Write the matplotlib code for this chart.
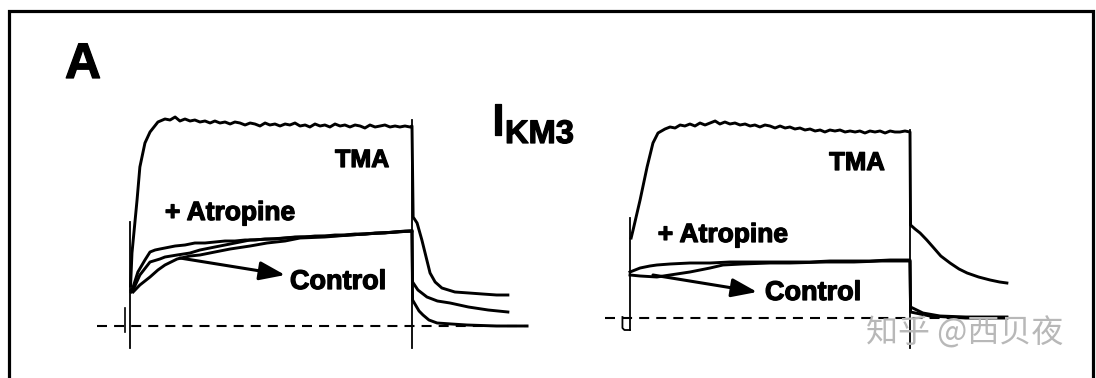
import matplotlib
matplotlib.use("Agg")
import matplotlib.pyplot as plt
import matplotlib.patheffects as pe
from matplotlib.patches import Rectangle

plt.rcParams['font.family'] = ['Liberation Sans', 'DejaVu Sans']

# ---- left panel traces (time in ms, current in arbitrary units) ----
tma_l_t = [2, 7, 25, 35, 53, 71, 99, 124, 142, 160, 177, 195, 213, 230, 248, 266, 284, 301, 319, 337,
           355, 372, 390, 408, 426, 443, 461, 479, 496, 514, 532, 550, 567, 585, 603, 621, 638, 656,
           674, 691, 709, 727, 745, 762, 780, 798, 816, 833, 851, 869, 887, 904, 922, 940, 957, 975,
           993, 1000, 1004, 1018, 1035, 1064, 1082, 1106, 1152, 1202, 1250, 1300, 1340]
tma_l_i = [0.40, 0.73, 1.26, 1.59, 1.83, 1.94, 2.04, 2.07, 2.06, 2.09, 2.05, 2.07, 2.05, 2.06, 2.04,
           2.05, 2.03, 2.05, 2.03, 2.04, 2.02, 2.04, 2.03, 2.01, 2.03, 2.02, 2.00, 2.03, 2.01, 2.02,
           2.00, 2.02, 2.01, 2.03, 2.00, 2.01, 1.99, 2.02, 2.00, 2.01, 1.99, 2.02, 2.00, 2.01, 1.99,
           2.01, 2.00, 1.98, 2.01, 1.99, 2.00, 2.01, 1.99, 2.00, 1.99, 2.00, 1.99, 2.00,
           1.09, 1.03, 0.86, 0.53, 0.44, 0.38, 0.34, 0.33, 0.32, 0.31, 0.31]

atr_l_t = [4, 11, 28, 53, 71, 89, 106, 124, 142, 160, 195, 230, 266, 301, 337, 372, 408, 443, 479,
           514, 550, 585, 621, 656, 691, 727, 762, 798, 833, 869, 904, 940, 975, 1000,
           1002, 1021, 1053, 1090, 1135, 1200, 1270, 1340]
atr_l_i = [0.36, 0.39, 0.54, 0.66, 0.74, 0.76, 0.77, 0.78, 0.79, 0.80, 0.81, 0.83, 0.83, 0.84, 0.85,
           0.85, 0.86, 0.86, 0.87, 0.87, 0.88, 0.89, 0.89, 0.90, 0.90, 0.91, 0.91, 0.92, 0.92, 0.93,
           0.93, 0.94, 0.95, 0.95,
           0.44, 0.36, 0.29, 0.25, 0.23, 0.19, 0.16, 0.14]

ctl_l_t = [4, 11, 35, 71, 106, 124, 167, 213, 248, 301, 355, 426, 496, 603, 709, 780, 887, 1000,
           1002, 1025, 1039, 1060, 1089, 1140, 1195, 1300, 1408]
ctl_l_i = [0.34, 0.36, 0.51, 0.64, 0.67, 0.69, 0.71, 0.73, 0.76, 0.79, 0.82, 0.86, 0.87, 0.89, 0.90,
           0.91, 0.93, 0.95,
           0.26, 0.15, 0.11, 0.06, 0.03, 0.02, 0.01, 0.0, 0.0]

ctl2_l_t = [11, 35, 71, 99, 124, 167, 213, 248, 301, 355, 426, 486, 550, 603, 691, 780, 887, 1000]
ctl2_l_i = [0.34, 0.41, 0.49, 0.56, 0.61, 0.67, 0.70, 0.71, 0.74, 0.77, 0.80, 0.83, 0.85, 0.88,
            0.89, 0.91, 0.93, 0.95]

# capacitive transients at pulse on/off
trans_l_on = [1.04, -0.22]
trans_l_off = [2.06, -0.22]

# ---- right panel traces ----
tma_r_t = [4, 11, 36, 61, 82, 100, 125, 143, 161, 179, 196, 214, 232, 250, 268, 286, 304, 321, 339,
           357, 375, 393, 411, 429, 446, 464, 482, 500, 518, 536, 554, 571, 589, 607, 625, 643, 661,
           679, 696, 714, 732, 750, 768, 786, 804, 821, 839, 857, 875, 893, 911, 929, 946, 964, 982,
           1000, 1002, 1018, 1036, 1060, 1082, 1110, 1143, 1175, 1204, 1245, 1286, 1320, 1346]
tma_r_i = [0.80, 0.88, 1.18, 1.51, 1.75, 1.85, 1.89, 1.91, 1.90, 1.93, 1.92, 1.94, 1.92, 1.95, 1.93,
           1.95, 1.97, 1.94, 1.96, 1.94, 1.95, 1.93, 1.94, 1.92, 1.93, 1.91, 1.93, 1.92, 1.90, 1.92,
           1.90, 1.91, 1.89, 1.90, 1.88, 1.89, 1.87, 1.88, 1.86, 1.88, 1.87, 1.88, 1.86, 1.87, 1.86,
           1.87, 1.85, 1.87, 1.86, 1.87, 1.85, 1.87, 1.86, 1.86, 1.87, 1.86,
           0.93, 0.89, 0.85, 0.78, 0.71, 0.62, 0.55, 0.49, 0.45, 0.41, 0.38, 0.36, 0.35]

atr_r_t = [0, 18, 36, 71, 96, 143, 214, 286, 357, 429, 500, 571, 643, 714, 786, 857, 929, 1000,
           1002, 1046, 1107, 1200, 1346]
atr_r_i = [0.46, 0.48, 0.50, 0.52, 0.53, 0.54, 0.55, 0.55, 0.56, 0.56, 0.56, 0.56, 0.56, 0.57, 0.57,
           0.57, 0.58, 0.58,
           0.11, 0.05, 0.02, 0.01, 0.01]

ctl_r_t = [0, 36, 96, 143, 214, 286, 332, 400, 500, 571, 700, 800, 900, 1000,
           1002, 1071, 1200, 1346]
ctl_r_i = [0.43, 0.42, 0.41, 0.43, 0.46, 0.50, 0.53, 0.54, 0.55, 0.55, 0.56, 0.56, 0.57, 0.57,
           0.06, 0.02, 0.0, 0.0]

trans_r_on = [1.00, -0.12]
trans_r_off = [1.88, -0.30]
hook_r_t = [-27, -27, -20, 0]
hook_r_i = [0.01, -0.10, -0.12, -0.12]

W, H = 1096, 378


def px_axes(fig, x0, x1, y0, y1):
    # axes rectangle given in pixel coords (y from top)
    return fig.add_axes([x0 / W, 1 - y1 / H, (x1 - x0) / W, (y1 - y0) / H])


fig = plt.figure(figsize=(W / 100, H / 100), dpi=100)

heavy = [pe.withStroke(linewidth=0.9, foreground='black')]
trace_kw = dict(color='black', lw=2.1, solid_joinstyle='round')
vert_kw = dict(color='black', lw=1.3)
dash_kw = dict(color='black', lw=1.5, linestyle=(0, (4.8, 3.4)))
label_kw = dict(fontweight='bold', ha='center', va='center', path_effects=heavy)
arrow_kw = dict(arrowstyle='-|>,head_length=0.6,head_width=0.22', lw=2.2, color='black',
                mutation_scale=26, shrinkA=0, shrinkB=0)

# left panel
axl = px_axes(fig, 90, 540, 100, 360)
axl.set_xlim((90 - 130) / 0.282, (540 - 130) / 0.282)
axl.set_ylim((326 - 360) / 100, (326 - 100) / 100)
axl.axis('off')
axl.plot([-117, 1411], [0, 0], **dash_kw)
axl.plot([0, 0], trans_l_on, **vert_kw)
axl.plot([1000, 1000], trans_l_off, **vert_kw)
axl.plot([-18, -18], [0.18, -0.06], color='black', lw=1.2)
for t, i in [(tma_l_t, tma_l_i), (atr_l_t, atr_l_i), (ctl_l_t, ctl_l_i), (ctl2_l_t, ctl2_l_i)]:
    axl.plot(t, i, **trace_kw)
axl.text(823, 1.66, 'TMA', fontsize=18, **label_kw)
axl.text(355, 1.13, '+ Atropine', fontsize=19, **label_kw)
axl.text(738, 0.44, 'Control', fontsize=19.5, **label_kw)
axl.annotate('', xy=(550, 0.51), xytext=(177, 0.68), arrowprops=arrow_kw)

# right panel
axr = px_axes(fig, 590, 1040, 100, 360)
axr.set_xlim((590 - 630) / 0.28, (1040 - 630) / 0.28)
axr.set_ylim((318 - 360) / 100, (318 - 100) / 100)
axr.axis('off')
axr.plot([-89, 1357], [0, 0], **dash_kw)
axr.plot([0, 0], trans_r_on, **vert_kw)
axr.plot([1000, 1000], trans_r_off, **vert_kw)
axr.plot(hook_r_t, hook_r_i, **vert_kw)
for t, i in [(tma_r_t, tma_r_i), (atr_r_t, atr_r_i), (ctl_r_t, ctl_r_i)]:
    axr.plot(t, i, **trace_kw)
axr.text(811, 1.55, 'TMA', fontsize=18.5, **label_kw)
axr.text(332, 0.83, '+ Atropine', fontsize=19, **label_kw)
axr.text(654, 0.25, 'Control', fontsize=19.5, **label_kw)
axr.annotate('', xy=(454, 0.26), xytext=(82, 0.43), arrowprops=arrow_kw)

# panel letter and current label
fig.text(83 / W, 1 - 65 / H, 'A', fontsize=36, fontweight='bold', ha='center', va='center',
         path_effects=heavy)
fig.text(492 / W, 1 - 135 / H, 'I', fontsize=32, fontweight='bold', ha='left', va='baseline',
         path_effects=heavy)
fig.text(505 / W, 1 - 143 / H, 'KM3', fontsize=23.5, fontweight='bold', ha='left', va='baseline',
         path_effects=heavy)

# frame
fig.add_artist(Rectangle((8.5 / W, -0.1), (1092.5 - 8.5) / W, 1.1 - 11 / H,
                         transform=fig.transFigure, fill=False, lw=2.3, edgecolor='black'))

# watermark
fig.text(965 / W, 1 - 333 / H, '知乎 @西贝夜', fontsize=23, color='#b8b8b8',
         family=['Noto Sans CJK SC', 'DejaVu Sans'], ha='center', va='center')

fig.savefig('out.png', dpi=100)
